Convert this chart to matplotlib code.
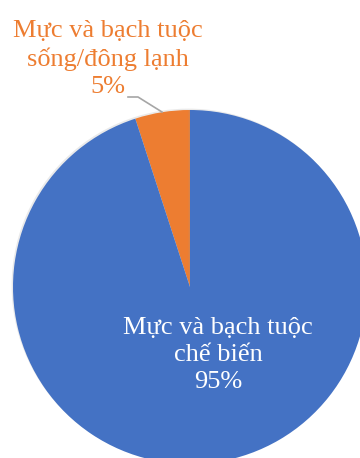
import matplotlib.pyplot as plt
import matplotlib.patheffects as pe

# Tỷ trọng xuất khẩu mực và bạch tuộc
labels = ['Mực và bạch tuộc\nsống/đông lạnh', 'Mực và bạch tuộc\nchế biến']
shares = [5, 95]
colors = ['#ED7D31', '#4472C4']

fig = plt.figure(figsize=(3.6, 4.58), dpi=100)
ax = fig.add_axes([0, 0, 1, 1])

wedges, _ = ax.pie(shares, colors=colors, startangle=90, counterclock=True,
                   center=(190, 171), radius=177, frame=True,
                   wedgeprops=dict(linewidth=0))
for w in wedges:
    w.set_path_effects([pe.SimplePatchShadow(offset=(-1, 1), shadow_rgbFace='#999999', alpha=0.2),
                        pe.Normal()])
ax.set_xlim(0, 360)
ax.set_ylim(0, 458)
ax.set_aspect('equal')
ax.axis('off')

font = dict(family='Liberation Serif', fontsize=19, ha='center', va='center', linespacing=1.32)

# nhãn lát nhỏ nằm ngoài, có đường dẫn
ax.text(108, 458 - 59, f'{labels[0]}\n{shares[0]}%', color=colors[0], **font)
ax.plot([128, 138, 162], [458 - 97, 458 - 97, 458 - 112], color='#A6A6A6', lw=1.2)

# nhãn lát lớn nằm trong
ax.text(218, 458 - 355, f'{labels[1]}\n{shares[1]}%', color='white', **font)

fig.savefig('out.png', dpi=100)
